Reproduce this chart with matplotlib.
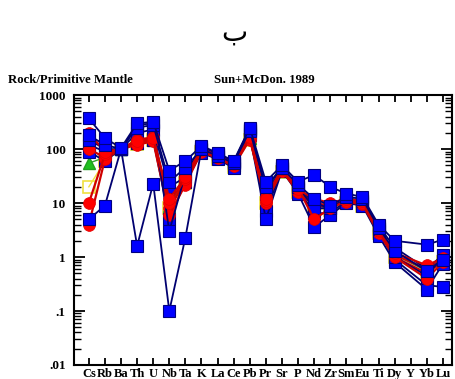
import matplotlib.pyplot as plt
import numpy as np
from matplotlib.ticker import LogLocator, NullFormatter, FixedLocator

# spider diagram, primitive-mantle normalised (Sun & McDonough 1989)
elements = ['Cs', 'Rb', 'Ba', 'Th', 'U', 'Nb', 'Ta', 'K', 'La', 'Ce', 'Pb', 'Pr',
            'Sr', 'P', 'Nd', 'Zr', 'Sm', 'Eu', 'Ti', 'Dy', 'Y', 'Yb', 'Lu']
# Y was not analysed, so samples skip that column
measured = [e for e in elements if e != 'Y']

blue_1 = [370, 160, 105, 300, 320, 40, 60, 115, 85, 60, 250, 25, 50, 25, 33, 20, 15, 13, 4.0, 2.0, 1.7, 2.1]
blue_2 = [180, 120, 100, 250, 280, 25, 45, 100, 75, 55, 220, 20, 45, 22, 12, 9, 13, 12, 3.5, 1.3, 0.55, 0.9]
blue_3 = [120, 90, 100, 200, 230, 20, 30, 95, 70, 50, 200, 7, 42, 18, 6.5, 6.5, 11, 10, 3.0, 0.9, 0.3, 0.28]
blue_4 = [90, 60, 100, 130, 150, 5, 25, 85, 65, 45, 180, 5, 40, 15, 3.6, 6, 10, 9, 2.5, 0.8, 0.25, 0.75]
blue_5 = [5, 9, 100, 1.6, 23, 0.1, 2.3, 100, 80, 55, 230, 15, 45, 20, 10, 8, 12, 11, 3.3, 1.0, 0.45, 1.0]
blue_6 = [150, 100, 100, 280, 300, 3, 35, 110, 80, 58, 240, 18, 48, 20, 8, 8, 12, 11, 3.8, 1.5, 0.6, 1.1]

red_1 = [200, 90, 100, 140, 160, 12, 30, 100, 75, 55, 170, 12, 42, 18, 12, 10, 12, 11, 3.2, 1.2, 0.7, 0.95]
red_2 = [100, 70, 100, 130, 150, 8, 25, 95, 70, 50, 160, 10, 40, 17, 10, 9, 11, 10, 3.0, 1.1, 0.6, 0.9]
red_3 = [10, 80, 100, 150, 165, 10, 28, 105, 72, 52, 165, 13, 43, 19, 5, 8, 11, 10, 3.1, 1.0, 0.4, 0.8]
red_4 = [4, 65, 100, 120, 140, 6, 22, 90, 68, 48, 150, 11, 40, 16, 9, 8.5, 10.5, 9.5, 2.8, 1.0, 0.5, 0.85]

green_1 = [55, 70, 100, 130, 150, 9, 26, 95, 70, 50, 160, 11, 40, 17, 9, 8, 11, 10, 3.0, 1.1, 0.55, 0.85]
yellow_1 = [20, 60, 100, 125, 145, 8, 24, 90, 66, 47, 150, 10, 38, 16, 8, 7.5, 10, 9, 2.8, 1.0, 0.5, 0.8]

xpos = np.array([elements.index(e) for e in measured])

fig = plt.figure(figsize=(4.56, 3.79), dpi=100)
ax = fig.add_axes([0.162, 0.037, 0.829, 0.712])

serif = 'Liberation Serif'

def blue(vals):
    ax.plot(xpos, vals, color='#000070', lw=1.3, marker='s', ms=9,
            mfc='#0000ff', mec='#000080', mew=0.8, zorder=3)

def red(vals):
    ax.plot(xpos, vals, color='#d00000', lw=1.6, marker='o', ms=8.5,
            mfc='#ff0000', mec='#e00000', mew=0.5, zorder=3)

ax.plot(xpos, yellow_1, color='#f0e040', lw=1.0, marker='s', ms=9,
        mfc='none', mec='#f0e040', mew=1.2, zorder=2)
ax.plot(xpos, green_1, color='#30a030', lw=1.0, marker='^', ms=9,
        mfc='#20c020', mec='#20a020', zorder=2)

blue(blue_3)
blue(blue_4)
red(red_2)
red(red_4)
blue(blue_5)
blue(blue_6)
red(red_3)
red(red_1)
blue(blue_2)
blue(blue_1)

ax.set_yscale('log')
ax.set_ylim(0.01, 1000)
ax.set_xlim(-0.93, 22.56)

ax.xaxis.set_major_locator(FixedLocator(range(len(elements))))
ax.set_xticklabels(elements, fontfamily=serif, fontweight='bold', fontsize=9)
ax.tick_params(axis='x', which='major', direction='in', length=5, width=1.3,
               top=True, pad=2.5)

ax.yaxis.set_major_locator(LogLocator(base=10, numticks=10))
ax.yaxis.set_minor_locator(LogLocator(base=10, subs=np.arange(2, 10), numticks=20))
ax.yaxis.set_minor_formatter(NullFormatter())
ax.set_yticks([0.01, 0.1, 1, 10, 100, 1000])
ax.set_yticklabels(['.01', '.1', '1', '10', '100', '1000'],
                   fontfamily=serif, fontweight='bold', fontsize=9.5)
ax.tick_params(axis='y', which='major', direction='in', length=8, width=1.3,
               right=True, pad=6)
ax.tick_params(axis='y', which='minor', direction='in', length=5, width=1.0,
               right=True)

for s in ax.spines.values():
    s.set_linewidth(1.5)

fig.text(0.513, 0.915, 'ب', ha='center', va='center', fontsize=20,
         family='DejaVu Sans')
fig.text(0.018, 0.789, 'Rock/Primitive Mantle', ha='left', va='center',
         fontfamily=serif, fontweight='bold', fontsize=9.2)
fig.text(0.579, 0.789, 'Sun+McDon. 1989', ha='center', va='center',
         fontfamily=serif, fontweight='bold', fontsize=9.2)

fig.savefig('out.png', dpi=100)
